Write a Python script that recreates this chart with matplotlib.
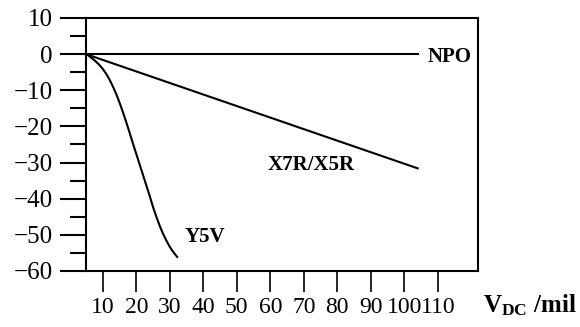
import numpy as np
import matplotlib
matplotlib.use("Agg")
import matplotlib.pyplot as plt

plt.rcParams['font.family'] = ['Liberation Serif', 'DejaVu Serif']
plt.rcParams['mathtext.fontset'] = 'custom'
plt.rcParams['mathtext.rm'] = 'Liberation Serif'
plt.rcParams['mathtext.bf'] = 'Liberation Serif:bold'

# capacitance change (%) against DC bias voltage
npo_v = [5, 104]
npo_c = [0, 0]

x7r_v = [5, 104]
x7r_c = [0, -31.6]

y5v_v = [5.2, 6, 7, 8, 9, 10, 11, 12, 13, 14, 15, 16, 17, 18, 19, 20,
         21, 22, 23, 24, 25, 26, 27, 28, 29, 30, 31, 32.2]
y5v_c = [0, -0.6, -1.3, -2.1, -3.0, -4.1, -5.4, -7.0, -8.9, -11.0, -13.4,
         -16.0, -18.8, -21.7, -24.7, -27.6, -30.5, -33.4, -36.3, -39.2,
         -42.3, -45.0, -47.5, -49.7, -51.6, -53.3, -54.7, -56.1]

x_ticks = [10, 20, 30, 40, 50, 60, 70, 80, 90, 100, 110]
y_ticks = [10, 0, -10, -20, -30, -40, -50, -60]
y_minor = [5, -5, -15, -25, -35, -45, -55]

fig = plt.figure(figsize=(5.8, 3.27), dpi=100)
ax = fig.add_axes([0.1483, 0.1713, 0.6758, 0.7737])

lw = 1.5
ax.plot(npo_v, npo_c, color='black', lw=lw)
ax.plot(x7r_v, x7r_c, color='black', lw=lw)
ax.plot(y5v_v, y5v_c, color='black', lw=lw, solid_joinstyle='round')

ax.text(113.4, -0.8, 'NPO', fontsize=15, fontweight='bold', ha='center', va='center')
ax.text(72.2, -30.8, 'X7R/X5R', fontsize=15, fontweight='bold', ha='center', va='center')
ax.text(40.6, -50.7, 'Y5V', fontsize=15, fontweight='bold', ha='center', va='center')

ax.set_xlim(5, 122)
ax.set_ylim(-60, 10)
ax.set_xticks(x_ticks)
ax.set_yticks(y_ticks)
ax.set_yticks(y_minor, minor=True)

for s in ax.spines.values():
    s.set_linewidth(lw)

ax.tick_params(axis='x', direction='out', length=15, width=1.2, pad=4, labelsize=17)
ax.tick_params(axis='y', which='major', direction='out', length=19, width=1.5, pad=5, labelsize=18)
ax.tick_params(axis='y', which='minor', direction='out', length=11.5, width=1.5)

fig.text(0.833, 0.067, r'$\mathbf{V_{DC}}$' + ' /mil', fontsize=18, fontweight='bold',
         ha='left', va='center')

fig.savefig('out.png', dpi=100)
